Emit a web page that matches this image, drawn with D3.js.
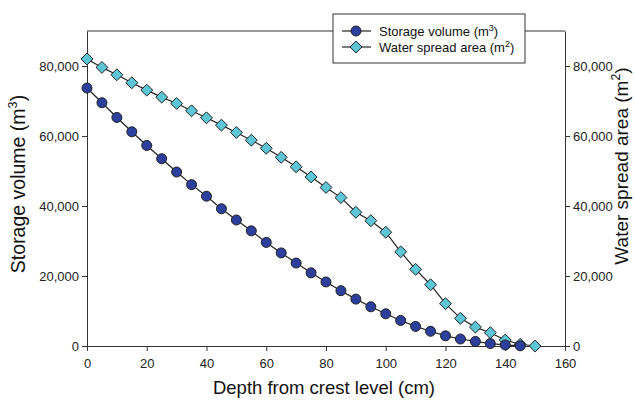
<!DOCTYPE html>
<html>
<head>
<meta charset="utf-8">
<script src="https://cdn.jsdelivr.net/npm/d3@7"></script>
<style>
  body { margin: 0; background: #fff; }
  svg { font-family: "Liberation Sans", Arial, sans-serif; }
</style>
</head>
<body>
<div id="chart"></div>
<script>
// depth from crest level (cm)
var depthVolume = [0, 5, 10, 15, 20, 25, 30, 35, 40, 45, 50, 55, 60, 65, 70, 75,
  80, 85, 90, 95, 100, 105, 110, 115, 120, 125, 130, 135, 140, 145];
var storageVolume = [73700, 69500, 65300, 61200, 57300, 53500, 49700, 46100, 42800, 39200,
  36000, 32900, 29600, 26600, 23700, 20900, 18300, 15800, 13400, 11200,
  9200, 7300, 5600, 4200, 2900, 2000, 1300, 700, 300, 50];
var depthArea = [0, 5, 10, 15, 20, 25, 30, 35, 40, 45, 50, 55, 60, 65, 70, 75,
  80, 85, 90, 95, 100, 105, 110, 115, 120, 125, 130, 135, 140, 145, 150];
var spreadArea = [82000, 79600, 77500, 75200, 73100, 71100, 69300, 67200, 65200, 63100,
  61000, 58800, 56500, 53900, 51200, 48300, 45300, 42400, 38200, 35800,
  32500, 26900, 21900, 17500, 12100, 7900, 5400, 3800, 1700, 500, 0];
var xTicks = [0, 20, 40, 60, 80, 100, 120, 140, 160];
var yTicks = [0, 20000, 40000, 60000, 80000];

var W = 635, H = 400;
var m = { left: 87, right: 70, top: 31, bottom: 54 };

var svg = d3.select("#chart").append("svg")
  .attr("width", W)
  .attr("height", H);

var x = d3.scaleLinear().domain([0, 160]).range([m.left, W - m.right]);
var y = d3.scaleLinear().domain([0, 90000]).range([H - m.bottom, m.top]);
var fmt = d3.format(",");

// frame top line
svg.append("line")
  .attr("x1", x(0)).attr("x2", x(160))
  .attr("y1", y(90000)).attr("y2", y(90000))
  .attr("stroke", "#333").attr("stroke-width", 1);

// axes
var xAxis = svg.append("g")
  .attr("transform", "translate(0," + y(0) + ")")
  .call(d3.axisBottom(x).tickValues(xTicks).tickSize(5).tickSizeOuter(0));
var yLeft = svg.append("g")
  .attr("transform", "translate(" + x(0) + ",0)")
  .call(d3.axisLeft(y).tickValues(yTicks).tickFormat(fmt).tickSize(5).tickSizeOuter(0));
var yRight = svg.append("g")
  .attr("transform", "translate(" + x(160) + ",0)")
  .call(d3.axisRight(y).tickValues(yTicks).tickFormat(fmt).tickSize(5).tickSizeOuter(0));

[xAxis, yLeft, yRight].forEach(function(g) {
  g.selectAll("path, line").attr("stroke", "#333");
  g.selectAll("text")
    .attr("fill", "#222")
    .style("font-size", "13px")
    .style("font-family", "Liberation Sans, Arial, sans-serif");
});
xAxis.selectAll("text").attr("dy", "1.05em");

// lines
var lineVol = d3.line()
  .x(function(d, i) { return x(depthVolume[i]); })
  .y(function(d) { return y(d); });
var lineArea = d3.line()
  .x(function(d, i) { return x(depthArea[i]); })
  .y(function(d) { return y(d); });

svg.append("path")
  .datum(spreadArea)
  .attr("d", lineArea)
  .attr("fill", "none")
  .attr("stroke", "#222")
  .attr("stroke-width", 1.2);
svg.append("path")
  .datum(storageVolume)
  .attr("d", lineVol)
  .attr("fill", "none")
  .attr("stroke", "#222")
  .attr("stroke-width", 1.2);

var blue = "#2c3f9c", cyan = "#5cc6d6";
var diamond = d3.symbol().type(d3.symbolDiamond2).size(90);

svg.append("g").selectAll("path")
  .data(spreadArea)
  .enter()
  .append("path")
  .attr("d", diamond)
  .attr("transform", function(d, i) {
    return "translate(" + x(depthArea[i]) + "," + y(d) + ")";
  })
  .attr("fill", cyan)
  .attr("stroke", "#222")
  .attr("stroke-width", 1);

svg.append("g").selectAll("circle")
  .data(storageVolume)
  .enter()
  .append("circle")
  .attr("cx", function(d, i) { return x(depthVolume[i]); })
  .attr("cy", function(d) { return y(d); })
  .attr("r", 5)
  .attr("fill", blue)
  .attr("stroke", "#222")
  .attr("stroke-width", 1);

// axis titles
function titleWithSup(g, base, sup, size) {
  var t = g.append("text")
    .attr("text-anchor", "middle")
    .attr("fill", "#111")
    .style("font-size", size + "px");
  t.append("tspan").text(base);
  t.append("tspan").attr("dy", -size * 0.4).style("font-size", (size * 0.65) + "px").text(sup);
  t.append("tspan").attr("dy", size * 0.4).text(")");
  return t;
}

svg.append("text")
  .attr("x", (x(0) + x(160)) / 2 - 2)
  .attr("y", 394)
  .attr("text-anchor", "middle")
  .attr("fill", "#111")
  .style("font-size", "18.5px")
  .text("Depth from crest level (cm)");

titleWithSup(svg.append("g").attr("transform", "translate(25,184) rotate(-90)"),
  "Storage volume (m", "3", 19.5);
titleWithSup(svg.append("g").attr("transform", "translate(628,166) rotate(-90)"),
  "Water spread area (m", "2", 19);

// legend
var lg = svg.append("g").attr("transform", "translate(333,14)");
lg.append("rect")
  .attr("width", 192).attr("height", 49)
  .attr("fill", "#fff").attr("stroke", "#333").attr("stroke-width", 1);

var legendItems = [
  { label: "Storage volume (m", sup: "3", kind: "circle" },
  { label: "Water spread area (m", sup: "2", kind: "diamond" }
];
legendItems.forEach(function(it, i) {
  var cy = 17 + i * 16;
  lg.append("line")
    .attr("x1", 9).attr("x2", 38)
    .attr("y1", cy).attr("y2", cy)
    .attr("stroke", "#222").attr("stroke-width", 1.2);
  if (it.kind === "circle") {
    lg.append("circle").attr("cx", 23).attr("cy", cy).attr("r", 5)
      .attr("fill", blue).attr("stroke", "#222");
  } else {
    lg.append("path").attr("d", diamond)
      .attr("transform", "translate(23," + cy + ")")
      .attr("fill", cyan).attr("stroke", "#222");
  }
  var t = lg.append("text")
    .attr("x", 46).attr("y", cy + 5)
    .attr("fill", "#111")
    .style("font-size", "13px");
  t.append("tspan").text(it.label);
  t.append("tspan").attr("dy", -5).style("font-size", "9px").text(it.sup);
  t.append("tspan").attr("dy", 5).text(")");
});
</script>
</body>
</html>
